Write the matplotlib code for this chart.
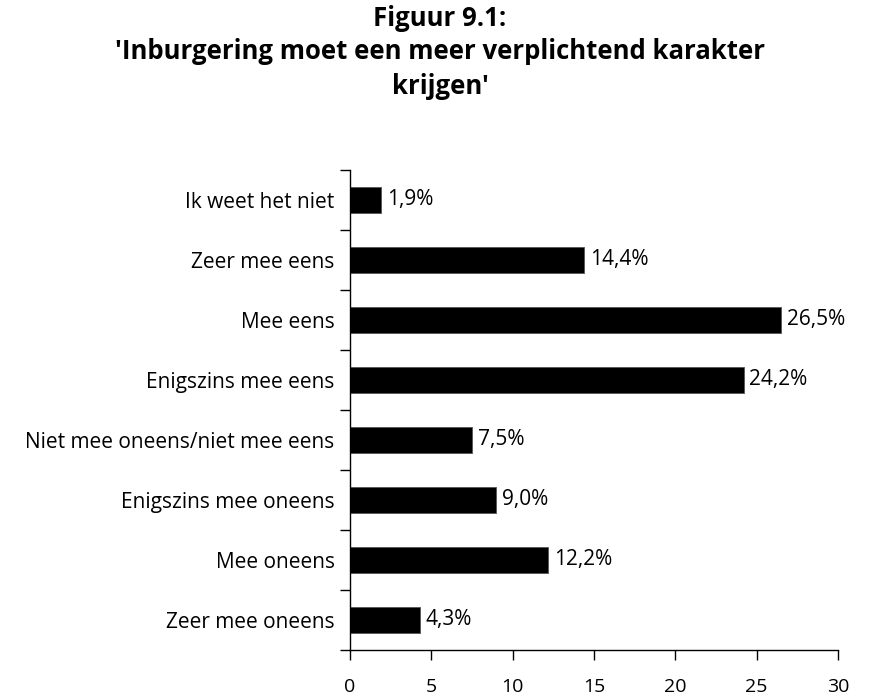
import numpy as np
import matplotlib.pyplot as plt

plt.rcParams['font.family'] = ['Open Sans', 'DejaVu Sans']

# Data (bottom to top as drawn)
categories = ['Zeer mee oneens', 'Mee oneens', 'Enigszins mee oneens',
              'Niet mee oneens/niet mee eens', 'Enigszins mee eens',
              'Mee eens', 'Zeer mee eens', 'Ik weet het niet']
values = [4.3, 12.2, 9.0, 7.5, 24.2, 26.5, 14.4, 1.9]
xticks = [0, 5, 10, 15, 20, 25, 30]

fig = plt.figure(figsize=(8.8, 7), dpi=100)
ax = fig.add_axes([350 / 880, 50 / 700, 488 / 880, 480 / 700])

y = np.arange(len(categories))
ax.barh(y, values, height=0.44, color='black', edgecolor='#555555', linewidth=0.6)

for yi, v in zip(y, values):
    ax.text(v + 0.35, yi, f'{v:.1f}%'.replace('.', ','), va='center', ha='left', fontsize=15)

ax.set_xlim(0, 30)
ax.set_ylim(-0.5, len(categories) - 0.5)
ax.set_xticks(xticks)
ax.set_xticklabels([str(t) for t in xticks], fontsize=14)
ax.tick_params(axis='x', direction='out', length=7, pad=13, width=1)

# category labels centered on bars, ticks on boundaries
ax.set_yticks(y)
ax.set_yticklabels(categories, fontsize=15)
ax.tick_params(axis='y', length=0, pad=11)
ax.set_yticks(np.arange(-0.5, len(categories), 1), minor=True)
ax.tick_params(axis='y', which='minor', direction='out', length=7, width=1)

for s in ['top', 'right']:
    ax.spines[s].set_visible(False)
ax.spines['left'].set_linewidth(1)
ax.spines['bottom'].set_linewidth(1)

fig.text(0.5, 0.974, 'Figuur 9.1:', ha='center', va='center', fontsize=18.5, fontweight='bold')
fig.text(0.5, 0.926, "'Inburgering moet een meer verplichtend karakter", ha='center', va='center',
         fontsize=18.5, fontweight='bold')
fig.text(0.5, 0.877, "krijgen'", ha='center', va='center', fontsize=18.5, fontweight='bold')

fig.savefig('out.png', dpi=100)
